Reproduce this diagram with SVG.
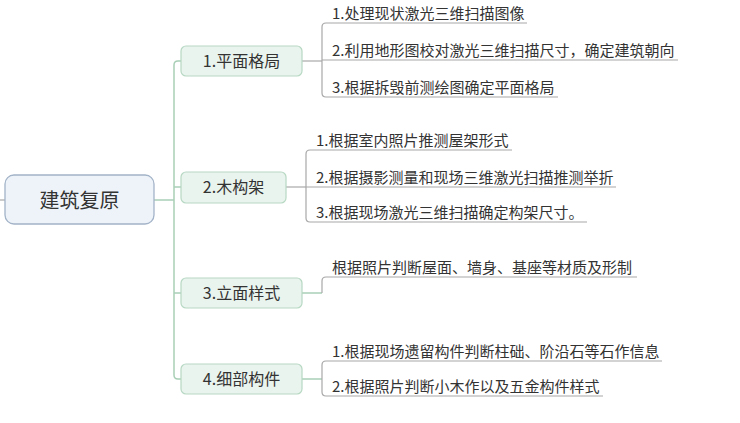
<svg xmlns="http://www.w3.org/2000/svg" width="740" height="423" viewBox="0 0 740 423">
<style>
.root{fill:#eef3fa;stroke:#a3b3c8;stroke-width:1.3}
.sub{fill:#eaf4ee;stroke:#b7d8c3;stroke-width:1.2}
.trunk{fill:none;stroke:#a9cfb7;stroke-width:1.5}
.leafln{fill:none;stroke:#a8a8a8;stroke-width:1.2}
text{font-family:"Noto Sans CJK SC","Liberation Sans",sans-serif;fill:#333}
.rt{font-size:20px;text-anchor:middle}
.st{font-size:16px;text-anchor:middle}
.lt{font-size:15px}
</style>
<rect width="740" height="423" fill="#ffffff"/>
<g id="connectors">
<path class="leafln" d="M0 200 H5"/>
<path class="trunk" d="M154 200 H174"/>
<path class="trunk" d="M181 61 H178 Q174 61 174 65 V375 Q174 379 178 379 H181"/>
<path class="trunk" d="M174 187 H181"/>
<path class="trunk" d="M174 293 H181"/>
<path class="leafln" d="M302 61 H322"/>
<path class="leafln" d="M527 23 H326 Q322 23 322 27 V93 Q322 97 326 97 H558"/>
<path class="leafln" d="M322 60 H678"/>
<path class="leafln" d="M286 187 H306"/>
<path class="leafln" d="M512 150 H310 Q306 150 306 154 V218 Q306 222 310 222 H587"/>
<path class="leafln" d="M306 187 H616"/>
<path class="trunk" d="M302 293 H322"/>
<path class="leafln" d="M322 293 V281 Q322 277 326 277 H637"/>
<path class="trunk" d="M302 379 H322"/>
<path class="leafln" d="M662 361 H326 Q322 361 322 365 V392 Q322 396 326 396 H603"/>
</g>
<g id="root">
<rect class="root" x="5" y="175" width="149" height="49" rx="9"/>
<text class="rt" x="79.5" y="208">建筑复原</text>
</g>
<g id="n1">
<rect class="sub" x="181" y="46" width="121" height="30" rx="5"/>
<text class="st" x="241.5" y="67">1.平面格局</text>
</g>
<g id="n2">
<rect class="sub" x="181" y="172" width="105" height="31" rx="5"/>
<text class="st" x="233.5" y="193">2.木构架</text>
</g>
<g id="n3">
<rect class="sub" x="181" y="278" width="121" height="30" rx="5"/>
<text class="st" x="241.5" y="299">3.立面样式</text>
</g>
<g id="n4">
<rect class="sub" x="181" y="364" width="121" height="30" rx="5"/>
<text class="st" x="241.5" y="385">4.细部构件</text>
</g>
<g id="leaf1-1"><text class="lt" x="332" y="19">1.处理现状激光三维扫描图像</text></g>
<g id="leaf1-2"><text class="lt" x="332" y="56">2.利用地形图校对激光三维扫描尺寸，确定建筑朝向</text></g>
<g id="leaf1-3"><text class="lt" x="332" y="93">3.根据拆毁前测绘图确定平面格局</text></g>
<g id="leaf2-1"><text class="lt" x="316" y="146">1.根据室内照片推测屋架形式</text></g>
<g id="leaf2-2"><text class="lt" x="316" y="183">2.根据摄影测量和现场三维激光扫描推测举折</text></g>
<g id="leaf2-3"><text class="lt" x="316" y="218">3.根据现场激光三维扫描确定构架尺寸。</text></g>
<g id="leaf3-1"><text class="lt" x="332" y="273">根据照片判断屋面、墙身、基座等材质及形制</text></g>
<g id="leaf4-1"><text class="lt" x="332" y="357">1.根据现场遗留构件判断柱础、阶沿石等石作信息</text></g>
<g id="leaf4-2"><text class="lt" x="332" y="392">2.根据照片判断小木作以及五金构件样式</text></g>
</svg>
